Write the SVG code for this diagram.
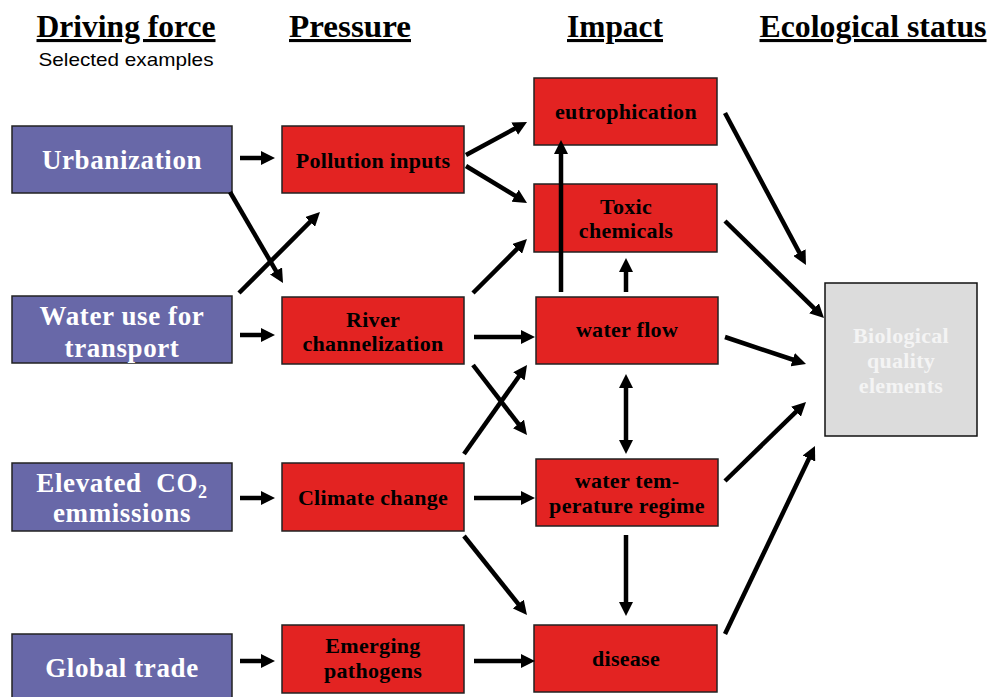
<svg xmlns="http://www.w3.org/2000/svg" width="990" height="697" viewBox="0 0 990 697">
<style>
.hdr{font-family:"Liberation Serif","Times New Roman",serif;font-weight:bold;font-size:31px;fill:#000;text-anchor:middle;text-decoration:underline}
.sub{font-family:"Liberation Sans",Arial,sans-serif;font-size:19px;fill:#000;text-anchor:middle}
.df rect{fill:#6868A8;stroke:#222;stroke-width:1.5}
.df text{font-family:"Liberation Serif","Times New Roman",serif;font-weight:bold;font-size:27px;fill:#fff;text-anchor:middle;letter-spacing:0.6px}
.rd rect{fill:#E32322;stroke:#222;stroke-width:1.5}
.rd text{font-family:"Liberation Serif","Times New Roman",serif;font-weight:bold;font-size:22px;fill:#000;text-anchor:middle;letter-spacing:0.3px}
.bio rect{fill:#DCDCDC;stroke:#111;stroke-width:1.5}
.bio text{font-family:"Liberation Serif","Times New Roman",serif;font-weight:bold;font-size:22px;fill:#F4F4F4;text-anchor:middle;letter-spacing:0.3px}
#connectors line{stroke:#000;stroke-width:4.5;marker-end:url(#ah)}
</style>
<defs>
<marker id="ah" markerUnits="userSpaceOnUse" markerWidth="16" markerHeight="14" refX="6" refY="7" orient="auto-start-reverse">
<path d="M0,0 L14,7 L0,14 z" fill="#000"/>
</marker>
</defs>
<rect width="990" height="697" fill="#fff"/>
<g id="headers">
<text class="hdr" x="126" y="37" textLength="179" lengthAdjust="spacingAndGlyphs">Driving force</text>
<text class="sub" x="126" y="66" textLength="175" lengthAdjust="spacingAndGlyphs">Selected examples</text>
<text class="hdr" x="350" y="37" textLength="122" lengthAdjust="spacingAndGlyphs">Pressure</text>
<text class="hdr" x="615" y="37" textLength="96" lengthAdjust="spacingAndGlyphs">Impact</text>
<text class="hdr" x="873" y="37" textLength="227" lengthAdjust="spacingAndGlyphs">Ecological status</text>
</g>
<g id="urbanization" class="df"><rect x="12" y="126" width="220" height="67"/><text x="122" y="169">Urbanization</text></g>
<g id="water-use" class="df"><rect x="12" y="296" width="220" height="67"/><text x="122" y="325">Water use for</text><text x="122" y="357">transport</text></g>
<g id="co2" class="df"><rect x="12" y="463" width="220" height="68"/><text x="122" y="492">Elevated&#160; CO<tspan font-size="18" dy="6">2</tspan></text><text x="122" y="522">emmissions</text></g>
<g id="global-trade" class="df"><rect x="12" y="634" width="220" height="70"/><text x="122" y="677">Global trade</text></g>
<g id="pollution" class="rd"><rect x="282" y="126" width="182" height="67"/><text x="373" y="168">Pollution inputs</text></g>
<g id="river" class="rd"><rect x="282" y="297" width="182" height="67"/><text x="373" y="327">River</text><text x="373" y="351">channelization</text></g>
<g id="climate" class="rd"><rect x="282" y="463" width="182" height="68"/><text x="373" y="505">Climate change</text></g>
<g id="pathogens" class="rd"><rect x="282" y="625" width="182" height="68"/><text x="373" y="653">Emerging</text><text x="373" y="678">pathogens</text></g>
<g id="eutrophication" class="rd"><rect x="534" y="78" width="183" height="67"/><text x="626" y="119">eutrophication</text></g>
<g id="toxic" class="rd"><rect x="534" y="184" width="183" height="68"/><text x="626" y="214">Toxic</text><text x="626" y="238">chemicals</text></g>
<g id="water-flow" class="rd"><rect x="536" y="297" width="182" height="67"/><text x="627" y="337">water flow</text></g>
<g id="water-temp" class="rd"><rect x="536" y="459" width="182" height="67"/><text x="627" y="488">water tem-</text><text x="627" y="513">perature regime</text></g>
<g id="disease" class="rd"><rect x="534" y="625" width="183" height="67"/><text x="626" y="666">disease</text></g>
<g id="biological" class="bio"><rect x="825" y="283" width="152" height="153"/><text x="901" y="343">Biological</text><text x="901" y="368">quality</text><text x="901" y="393">elements</text></g>
<g id="connectors">
<line x1="240" y1="158" x2="267" y2="158"/>
<line x1="240" y1="335" x2="267" y2="335"/>
<line x1="240" y1="498" x2="267" y2="498"/>
<line x1="240" y1="661" x2="267" y2="661"/>
<line x1="230" y1="192" x2="279" y2="276.1"/>
<line x1="239" y1="293" x2="314.3" y2="217.7"/>
<line x1="466" y1="155" x2="520" y2="125.8"/>
<line x1="466" y1="166" x2="520.2" y2="198.8"/>
<line x1="473" y1="293" x2="521.3" y2="244.7"/>
<line x1="474" y1="337" x2="527" y2="337"/>
<line x1="473" y1="365" x2="522.1" y2="428.7"/>
<line x1="464" y1="454" x2="522.4" y2="371.5"/>
<line x1="474" y1="498" x2="527" y2="498"/>
<line x1="464" y1="536" x2="522" y2="608.7"/>
<line x1="474" y1="661" x2="527" y2="661"/>
<line x1="561" y1="292" x2="561" y2="148"/>
<line x1="626" y1="292" x2="626" y2="266"/>
<line x1="626" y1="382" x2="626" y2="446" style="marker-start:url(#ah)"/>
<line x1="626" y1="535" x2="626" y2="608"/>
<line x1="725" y1="113" x2="802.2" y2="257.9"/>
<line x1="725" y1="221" x2="818.3" y2="312.4"/>
<line x1="725" y1="337" x2="798.4" y2="361.5"/>
<line x1="725" y1="481" x2="800.3" y2="407.6"/>
<line x1="725" y1="634" x2="811.5" y2="453.2"/>
</g>
</svg>
